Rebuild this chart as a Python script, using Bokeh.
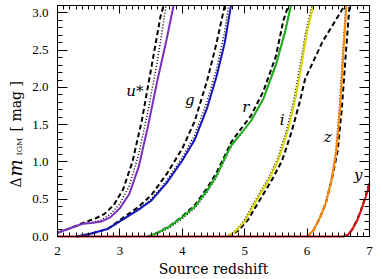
import math
from bokeh.plotting import figure
from bokeh.models import (Range1d, LinearAxis, SingleIntervalTicker, Label,
                          CustomLabelingPolicy, CustomJSTickFormatter)
from bokeh.core.properties import value
from bokeh.embed import file_html
from bokeh.resources import INLINE

# ---------------- data ----------------
# u* band
u_x_solid = [2.0, 2.2, 2.4, 2.55, 2.7, 2.85, 3.0, 3.15, 3.3, 3.45, 3.6, 3.75, 3.86]
u_y_solid = [0.05, 0.11, 0.17, 0.18, 0.20, 0.26, 0.38, 0.57, 0.93, 1.48, 2.09, 2.65, 3.1]
u_x_dash = [2.0, 2.2, 2.4, 2.6, 2.75, 2.9, 3.05, 3.2, 3.35, 3.5, 3.65, 3.7]
u_y_dash = [0.05, 0.11, 0.18, 0.24, 0.30, 0.42, 0.63, 1.0, 1.55, 2.25, 2.95, 3.1]
u_x_dot = [2.0, 2.2, 2.4, 2.55, 2.7, 2.85, 3.0, 3.15, 3.3, 3.45, 3.6, 3.74]
u_y_dot = [0.05, 0.11, 0.17, 0.19, 0.22, 0.30, 0.44, 0.68, 1.10, 1.68, 2.35, 3.1]

# g band
g_x_solid = [2.3, 2.5, 2.8, 3.05, 3.3, 3.5, 3.75, 4.0, 4.2, 4.4, 4.55, 4.68, 4.78]
g_y_solid = [0.0, 0.03, 0.10, 0.23, 0.36, 0.48, 0.72, 1.02, 1.30, 1.73, 2.15, 2.6, 3.1]
g_x_dash = [2.3, 2.5, 2.8, 3.05, 3.3, 3.5, 3.75, 4.0, 4.2, 4.4, 4.55, 4.68]
g_y_dash = [0.0, 0.03, 0.10, 0.25, 0.40, 0.55, 0.84, 1.18, 1.55, 2.10, 2.6, 3.1]
g_x_dot = [2.3, 2.5, 2.8, 3.05, 3.3, 3.5, 3.75, 4.0, 4.2, 4.4, 4.55, 4.68, 4.74]
g_y_dot = [0.0, 0.03, 0.10, 0.23, 0.37, 0.50, 0.75, 1.06, 1.36, 1.82, 2.25, 2.75, 3.1]

# r band
r_x_solid = [3.45, 3.6, 3.8, 4.0, 4.2, 4.4, 4.55, 4.68, 4.78, 4.9, 5.1, 5.3, 5.5, 5.65, 5.74]
r_y_solid = [0.0, 0.05, 0.14, 0.26, 0.40, 0.62, 0.82, 1.05, 1.22, 1.34, 1.55, 1.85, 2.3, 2.75, 3.1]
r_x_dash = [3.45, 3.6, 3.8, 4.0, 4.2, 4.4, 4.55, 4.68, 4.78, 4.9, 5.1, 5.3, 5.5, 5.62, 5.7]
r_y_dash = [0.0, 0.05, 0.14, 0.27, 0.42, 0.65, 0.86, 1.08, 1.26, 1.40, 1.62, 1.95, 2.42, 2.9, 3.1]
r_x_dot = [3.45, 3.6, 3.8, 4.0, 4.2, 4.4, 4.55, 4.68, 4.78, 4.9, 5.1, 5.3, 5.5, 5.65, 5.74]
r_y_dot = [0.0, 0.04, 0.12, 0.24, 0.38, 0.60, 0.80, 1.03, 1.20, 1.33, 1.55, 1.86, 2.32, 2.78, 3.1]

# i band
i_x_solid = [4.72, 4.85, 5.0, 5.2, 5.4, 5.55, 5.7, 5.82, 5.92, 6.0, 6.1]
i_y_solid = [0.0, 0.07, 0.20, 0.50, 0.78, 1.05, 1.45, 1.88, 2.35, 2.75, 3.1]
i_x_dash = [4.72, 4.9, 5.05, 5.25, 5.45, 5.6, 5.75, 5.88, 5.97, 6.1, 6.25, 6.42, 6.6]
i_y_dash = [0.0, 0.08, 0.22, 0.50, 0.78, 1.02, 1.40, 1.80, 2.12, 2.35, 2.62, 2.85, 3.1]
i_x_dot = [4.72, 4.84, 4.98, 5.18, 5.38, 5.53, 5.68, 5.8, 5.9, 5.98, 6.08]
i_y_dot = [0.0, 0.07, 0.20, 0.50, 0.78, 1.05, 1.45, 1.88, 2.35, 2.75, 3.1]

# z band
z_x_solid = [6.0, 6.1, 6.2, 6.3, 6.4, 6.47, 6.53, 6.58, 6.63]
z_y_solid = [0.0, 0.08, 0.24, 0.45, 0.78, 1.15, 1.75, 2.45, 3.1]
z_x_dash = [6.0, 6.1, 6.2, 6.3, 6.4, 6.49, 6.56, 6.62, 6.68]
z_y_dash = [0.0, 0.08, 0.24, 0.45, 0.78, 1.15, 1.75, 2.45, 3.1]
z_x_dot = [6.0, 6.1, 6.2, 6.3, 6.39, 6.46, 6.52, 6.57, 6.62]
z_y_dot = [0.0, 0.08, 0.24, 0.45, 0.78, 1.15, 1.75, 2.45, 3.1]

# y band (flat at zero from z=2)
y_x_solid = [2.0, 6.58, 6.65, 6.72, 6.8, 6.87, 6.94, 7.0]
y_y_solid = [0.0, 0.0, 0.02, 0.09, 0.21, 0.36, 0.53, 0.70]
y_x_dash = [6.58, 6.65, 6.72, 6.8, 6.87, 6.94, 7.0]
y_y_dash = [0.0, 0.02, 0.09, 0.22, 0.37, 0.55, 0.72]
y_x_dot = [6.58, 6.65, 6.72, 6.8, 6.87, 6.94, 7.0]
y_y_dot = [0.0, 0.02, 0.09, 0.21, 0.36, 0.53, 0.70]

band_names = ["u*", "g", "r", "i", "z", "y"]
band_colors = ["#7b2fc0", "#1515c0", "#1fae1f", "#d6d600", "#ff8a00", "#e01010"]
band_label_x = [3.24, 4.12, 5.02, 5.60, 6.33, 6.82]
band_label_y = [1.95, 1.83, 1.74, 1.56, 1.34, 0.82]

x_min, x_max = 2.0, 7.0
y_min, y_max = 0.0, 3.1
x_tick_interval = 1
y_tick_interval = 0.5

# ---------------- layout (pixels) ----------------
W, H = 382, 279
box_left, box_right, box_top, box_bottom = 57, 369, 5, 236
px_per_x = (box_right - box_left) / (x_max - x_min)
px_per_y = (box_bottom - box_top) / (y_max - y_min)
xr = Range1d(x_min - box_left / px_per_x, x_max + (W - box_right) / px_per_x)
yr = Range1d(y_min - (H - box_bottom) / px_per_y, y_max + box_top / px_per_y)


def sx(px):  # pixel column -> data x
    return x_min + (px - box_left) / px_per_x


def sy(py):  # pixel row -> data y
    return y_min + (box_bottom - py) / px_per_y


FONT = "DejaVu Serif"
TICK_FONT = "Liberation Serif"

p = figure(width=W, height=H, output_backend="svg", toolbar_location=None,
           x_range=xr, y_range=yr, x_axis_type=None, y_axis_type=None,
           min_border=0)
p.outline_line_color = None
p.background_fill_color = "white"
p.border_fill_color = "white"

no_labels = CustomLabelingPolicy(code="for (const i of indices) indices.unset(i); return indices")


def make_axis(interval, nminor, major_len, minor_len, loc, bounds, labels):
    ax = LinearAxis(ticker=SingleIntervalTicker(interval=interval, num_minor_ticks=nminor),
                    fixed_location=loc, bounds=bounds)
    ax.axis_line_color = "black"
    ax.axis_line_width = 1
    ax.major_tick_line_color = "black"
    ax.minor_tick_line_color = "black"
    ax.major_tick_in = major_len
    ax.major_tick_out = 0
    ax.minor_tick_in = minor_len
    ax.minor_tick_out = 0
    ax.major_label_text_font = TICK_FONT
    ax.major_label_text_font_size = "13px"
    ax.major_label_text_color = "black"
    if not labels:
        ax.major_label_policy = no_labels
    return ax


xb = make_axis(x_tick_interval, 10, 8, 4, y_min, (x_min, x_max), True)
xb.major_label_standoff = 10
p.add_layout(xb, "below")
xt = make_axis(x_tick_interval, 10, 8, 4, y_max, (x_min, x_max), False)
p.add_layout(xt, "above")

yl = make_axis(y_tick_interval, 5, 10, 5, x_min, (y_min, y_max), True)
yl.major_label_standoff = 9
yl.formatter = CustomJSTickFormatter(code="return tick.toFixed(1);")
p.add_layout(yl, "left")
yrt = make_axis(y_tick_interval, 5, 10, 5, x_max, (y_min, y_max), False)
p.add_layout(yrt, "right")

bands = [
    (u_x_solid, u_y_solid, u_x_dash, u_y_dash, u_x_dot, u_y_dot),
    (g_x_solid, g_y_solid, g_x_dash, g_y_dash, g_x_dot, g_y_dot),
    (r_x_solid, r_y_solid, r_x_dash, r_y_dash, r_x_dot, r_y_dot),
    (i_x_solid, i_y_solid, i_x_dash, i_y_dash, i_x_dot, i_y_dot),
    (z_x_solid, z_y_solid, z_x_dash, z_y_dash, z_x_dot, z_y_dot),
    (y_x_solid, y_y_solid, y_x_dash, y_y_dash, y_x_dot, y_y_dot),
]

for (xs, ys, xd, yd, xo, yo), col in zip(bands, band_colors):
    p.line(xd, yd, line_color="black", line_width=2, line_dash="5 3")
    p.line(xo, yo, line_color="black", line_width=1.5, line_dash="1 2")
    p.line(xs, ys, line_color=col, line_width=2)

p.text(x=band_label_x, y=band_label_y, text=band_names,
       text_font=value(FONT), text_font_style="italic", text_font_size="15px",
       text_align="center", text_baseline="middle", text_color="black")

# x axis title
p.add_layout(Label(x=sx(213), y=sy(268), text="Source redshift", text_font=FONT,
                   text_font_size="14px", text_align="center", text_baseline="middle",
                   text_color="black"))

# y axis title, composed of pieces, rotated
ang = math.pi / 2
p.add_layout(Label(x=sx(15), y=sy(187), angle=ang, text="Δ", text_font=FONT,
                   text_font_size="14px", text_align="left", text_baseline="middle",
                   text_color="black"))
p.add_layout(Label(x=sx(15), y=sy(176), angle=ang, text="m", text_font=FONT,
                   text_font_style="italic", text_font_size="18px", text_align="left",
                   text_baseline="middle", text_color="black"))
p.add_layout(Label(x=sx(19), y=sy(155), angle=ang, text="IGM", text_font=FONT,
                   text_font_size="8px", text_align="left", text_baseline="middle",
                   text_color="black"))
p.add_layout(Label(x=sx(15), y=sy(131), angle=ang, text="[ mag ]", text_font=FONT,
                   text_font_size="14px", text_align="left", text_baseline="middle",
                   text_color="black"))

open("out.html", "w").write(file_html(p, INLINE))
